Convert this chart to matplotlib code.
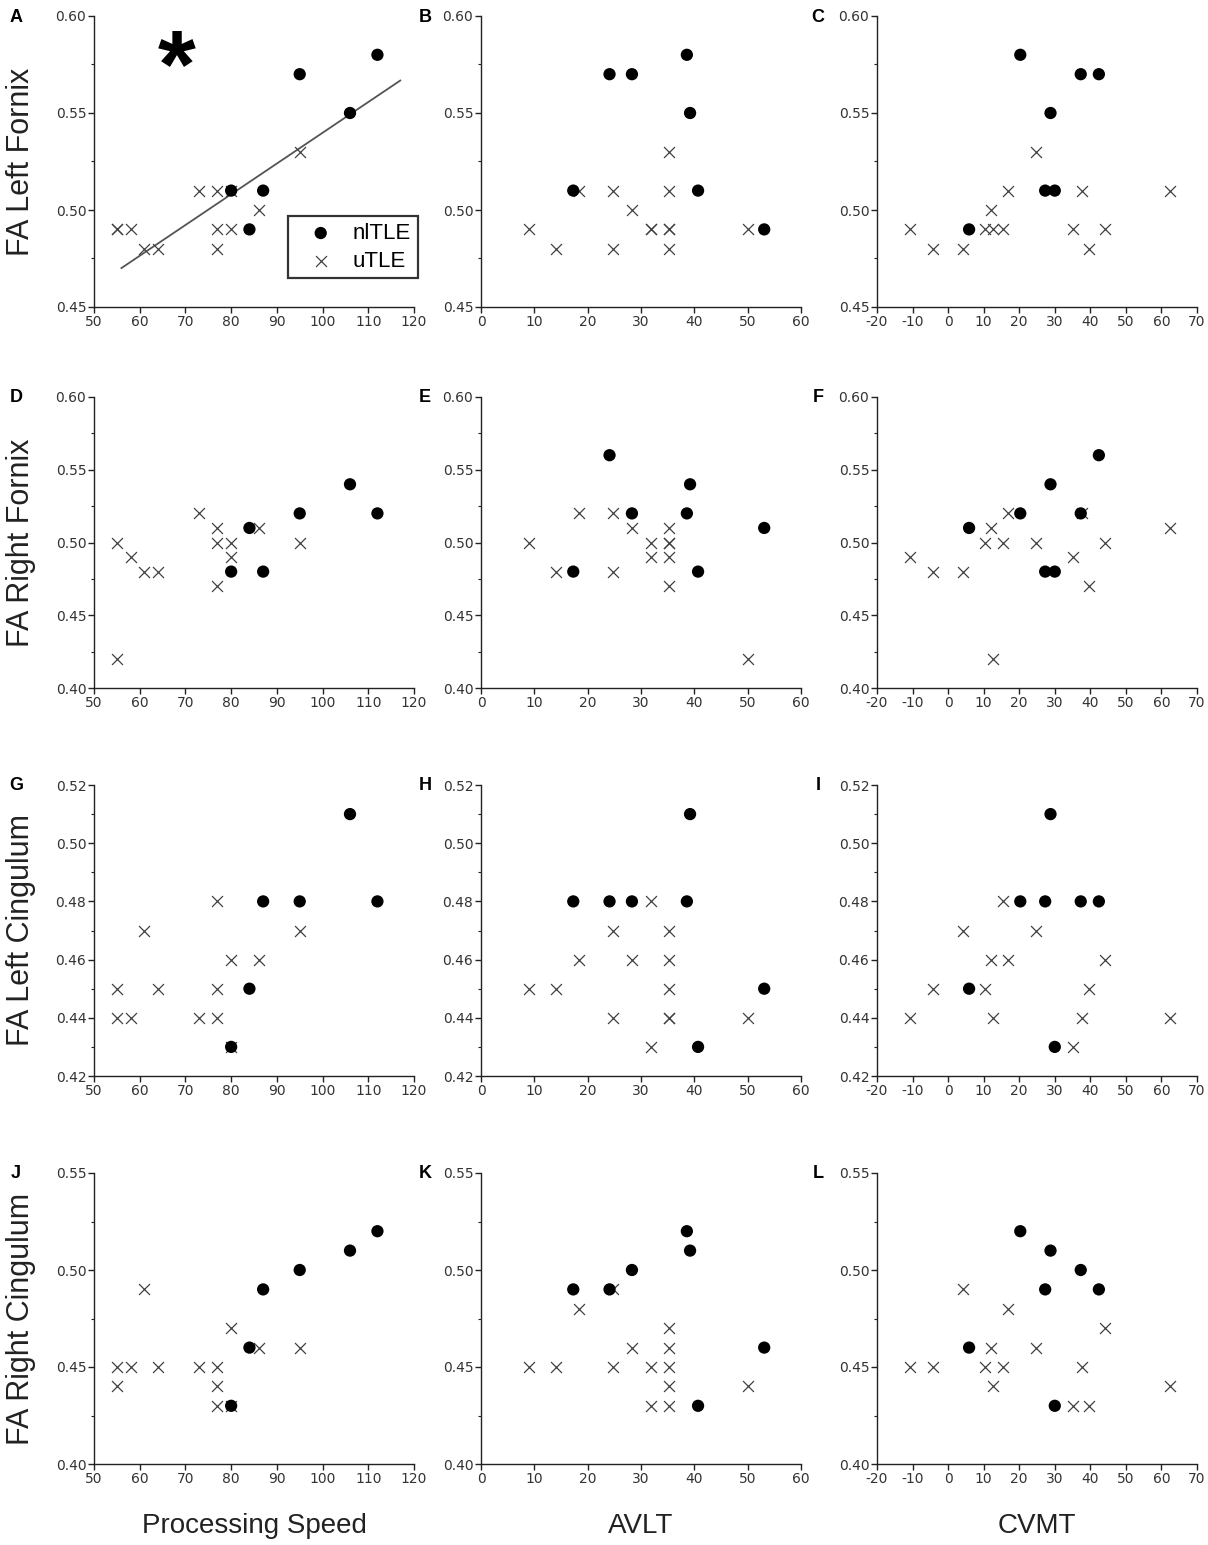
import matplotlib
matplotlib.use("Agg")
import matplotlib.pyplot as plt
from matplotlib.ticker import MultipleLocator, FormatStrFormatter

plt.rcParams['axes.unicode_minus'] = False

# x values per test (same subjects in every row)
speed_n = [80, 84, 87, 95, 106, 112]
speed_u = [55, 55, 58, 61, 64, 73, 77, 77, 77, 80, 80, 86, 95]
avlt_n = [17.3, 24.1, 28.3, 38.6, 39.2, 40.7, 53.1]
avlt_u = [9.0, 14.1, 18.4, 24.7, 24.7, 28.3, 31.9, 31.9, 35.2, 35.2, 35.2, 35.2, 35.2, 50.0]
cvmt_n = [5.9, 20.3, 27.3, 28.8, 30.0, 37.3, 42.4]
cvmt_u = [-10.8, -4.2, 4.1, 10.3, 12.0, 12.6, 15.5, 16.8, 24.7, 35.2, 37.6, 39.7, 44.1, 62.4]

# FA values, Left Fornix
lfx_speed_n = [0.51, 0.49, 0.51, 0.57, 0.55, 0.58]
lfx_speed_u = [0.49, 0.49, 0.49, 0.48, 0.48, 0.51, 0.51, 0.49, 0.48, 0.49, 0.51, 0.50, 0.53]
lfx_avlt_n = [0.51, 0.57, 0.57, 0.58, 0.55, 0.51, 0.49]
lfx_avlt_u = [0.49, 0.48, 0.51, 0.51, 0.48, 0.50, 0.49, 0.49, 0.53, 0.51, 0.49, 0.49, 0.48, 0.49]
lfx_cvmt_n = [0.49, 0.58, 0.51, 0.55, 0.51, 0.57, 0.57]
lfx_cvmt_u = [0.49, 0.48, 0.48, 0.49, 0.50, 0.49, 0.49, 0.51, 0.53, 0.49, 0.51, 0.48, 0.49, 0.51]

# Right Fornix
rfx_speed_n = [0.48, 0.51, 0.48, 0.52, 0.54, 0.52]
rfx_speed_u = [0.50, 0.42, 0.49, 0.48, 0.48, 0.52, 0.51, 0.50, 0.47, 0.50, 0.49, 0.51, 0.50]
rfx_avlt_n = [0.48, 0.56, 0.52, 0.52, 0.54, 0.48, 0.51]
rfx_avlt_u = [0.50, 0.48, 0.52, 0.52, 0.48, 0.51, 0.50, 0.49, 0.51, 0.50, 0.50, 0.49, 0.47, 0.42]
rfx_cvmt_n = [0.51, 0.52, 0.48, 0.54, 0.48, 0.52, 0.56]
rfx_cvmt_u = [0.49, 0.48, 0.48, 0.50, 0.51, 0.42, 0.50, 0.52, 0.50, 0.49, 0.52, 0.47, 0.50, 0.51]

# Left Cingulum
lcg_speed_n = [0.43, 0.45, 0.48, 0.48, 0.51, 0.48]
lcg_speed_u = [0.45, 0.44, 0.44, 0.47, 0.45, 0.44, 0.48, 0.45, 0.44, 0.46, 0.43, 0.46, 0.47]
lcg_avlt_n = [0.48, 0.48, 0.48, 0.48, 0.51, 0.43, 0.45]
lcg_avlt_u = [0.45, 0.45, 0.46, 0.47, 0.44, 0.46, 0.48, 0.43, 0.47, 0.46, 0.45, 0.44, 0.44, 0.44]
lcg_cvmt_n = [0.45, 0.48, 0.48, 0.51, 0.43, 0.48, 0.48]
lcg_cvmt_u = [0.44, 0.45, 0.47, 0.45, 0.46, 0.44, 0.48, 0.46, 0.47, 0.43, 0.44, 0.45, 0.46, 0.44]

# Right Cingulum
rcg_speed_n = [0.43, 0.46, 0.49, 0.50, 0.51, 0.52]
rcg_speed_u = [0.45, 0.44, 0.45, 0.49, 0.45, 0.45, 0.45, 0.44, 0.43, 0.47, 0.43, 0.46, 0.46]
rcg_avlt_n = [0.49, 0.49, 0.50, 0.52, 0.51, 0.43, 0.46]
rcg_avlt_u = [0.45, 0.45, 0.48, 0.49, 0.45, 0.46, 0.45, 0.43, 0.47, 0.46, 0.45, 0.44, 0.43, 0.44]
rcg_cvmt_n = [0.46, 0.52, 0.49, 0.51, 0.43, 0.50, 0.49]
rcg_cvmt_u = [0.45, 0.45, 0.49, 0.45, 0.46, 0.44, 0.45, 0.48, 0.46, 0.43, 0.45, 0.43, 0.47, 0.44]

# regression line in panel A (slope, intercept) and its x span
fit_coef = (0.001585, 0.3813)
fit_span = (56, 117)

row_labels = ['FA Left Fornix', 'FA Right Fornix', 'FA Left Cingulum', 'FA Right Cingulum']
col_labels = ['Processing Speed', 'AVLT', 'CVMT']
letters = ['A', 'B', 'C', 'D', 'E', 'F', 'G', 'H', 'I', 'J', 'K', 'L']
legend_labels = ['nlTLE', 'uTLE']

x_sets = [(speed_n, speed_u), (avlt_n, avlt_u), (cvmt_n, cvmt_u)]
y_sets = [
    [(lfx_speed_n, lfx_speed_u), (lfx_avlt_n, lfx_avlt_u), (lfx_cvmt_n, lfx_cvmt_u)],
    [(rfx_speed_n, rfx_speed_u), (rfx_avlt_n, rfx_avlt_u), (rfx_cvmt_n, rfx_cvmt_u)],
    [(lcg_speed_n, lcg_speed_u), (lcg_avlt_n, lcg_avlt_u), (lcg_cvmt_n, lcg_cvmt_u)],
    [(rcg_speed_n, rcg_speed_u), (rcg_avlt_n, rcg_avlt_u), (rcg_cvmt_n, rcg_cvmt_u)],
]

xlims = [(50, 120), (0, 60), (-20, 70)]
ylims = [(0.45, 0.60), (0.40, 0.60), (0.42, 0.52), (0.40, 0.55)]
ysteps = [(0.05, 0.025), (0.05, 0.025), (0.02, 0.01), (0.05, 0.025)]

# layout in pixels
W, H = 1208, 1545
col_left = [94, 481, 877]
row_top = [16, 397, 785, 1173]
ax_w, ax_h = 320, 291
letter_x = [16, 425, 818]

fig = plt.figure(figsize=(W / 100, H / 100), dpi=100)

axes = {}
for r in range(4):
    for c in range(3):
        ax = fig.add_axes([col_left[c] / W, 1 - (row_top[r] + ax_h) / H, ax_w / W, ax_h / H])
        axes[(r, c)] = ax
        xn, xu = x_sets[c]
        yn, yu = y_sets[r][c]
        ax.scatter(xu, yu, marker='x', s=62, color='#404040', linewidths=0.9, zorder=2,
                   label=legend_labels[1])
        ax.scatter(xn, yn, marker='o', s=78, color='black', edgecolors='none', zorder=3,
                   label=legend_labels[0])
        ax.set_xlim(*xlims[c])
        ax.set_ylim(*ylims[r])
        ax.xaxis.set_major_locator(MultipleLocator(10))
        ax.yaxis.set_major_locator(MultipleLocator(ysteps[r][0]))
        ax.yaxis.set_minor_locator(MultipleLocator(ysteps[r][1]))
        ax.yaxis.set_major_formatter(FormatStrFormatter('%.2f'))
        for side in ['top', 'right']:
            ax.spines[side].set_visible(False)
        for side in ['left', 'bottom']:
            ax.spines[side].set_linewidth(1.0)
            ax.spines[side].set_color('#222222')
        ax.tick_params(which='major', direction='out', length=4, width=1.0, color='#222222',
                       labelsize=10, labelcolor='#333333', pad=1.5)
        ax.tick_params(which='minor', direction='out', length=2.5, width=0.8, color='#222222')
        for lab in ax.get_xticklabels() + ax.get_yticklabels():
            lab.set_family('DejaVu Sans')

        fig.text(letter_x[c] / W, 1 - (row_top[r] + 1) / H, letters[r * 3 + c],
                 fontsize=13, fontweight='bold', family='Liberation Sans',
                 ha='center', va='center')

# regression line and legend for panel A
axA = axes[(0, 0)]
fx = list(fit_span)
fy = [fit_coef[0] * v + fit_coef[1] for v in fx]
axA.plot(fx, fy, color='#555555', linewidth=1.3, zorder=1)
axA.text(68, 0.571, '*', fontsize=70, fontweight='bold', family='Liberation Sans',
         ha='center', va='center')
handles, labels = axA.get_legend_handles_labels()
leg = axA.legend(handles[::-1], labels[::-1], loc='lower right', bbox_to_anchor=(1.012, 0.099),
                 frameon=True, fancybox=False, edgecolor='black',
                 handletextpad=0.3, borderpad=0.3, labelspacing=0.3, handlelength=2.3,
                 borderaxespad=0, prop={'family': 'Liberation Sans', 'size': 16})
leg.get_frame().set_linewidth(1.6)
leg.set_clip_on(False)

for r in range(4):
    fig.text(21 / W, 1 - (row_top[r] + ax_h / 2) / H, row_labels[r], rotation=90,
             fontsize=22, family='Liberation Sans', color='#222222', ha='center', va='center')

for c in range(3):
    fig.text((col_left[c] + ax_w / 2) / W, 1 - 1533 / H, col_labels[c], fontsize=20,
             family='Liberation Sans', color='#222222', ha='center', va='baseline')

fig.savefig('out.png', dpi=100)
